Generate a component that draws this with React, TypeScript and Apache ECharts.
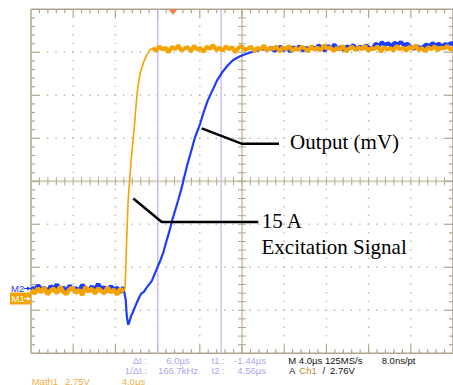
import React, { useEffect, useRef } from "react";
import * as echarts from "echarts";

// ---- Horizontal / vertical scale (oscilloscope settings) ----
const X_MIN = -13.46; // µs at the left graticule edge
const US_PER_DIV = 4; // 4.0 µs / div
const X_DIVS = 10;
const Y_DIVS = 8;
const CURSOR_TIMES = [-1.44, 4.56]; // t1, t2
const TRIGGER_TIME = 0;

// ---- Traces (time in µs, level in divisions from centre) ----
const STEP = 0.3;
const BASE_START = -13.4;
const m1Baseline = [
  -2.52, -2.61, -2.49, -2.58, -2.47, -2.63, -2.54, -2.5, -2.6, -2.45,
  -2.57, -2.62, -2.51, -2.48, -2.59, -2.53, -2.64, -2.46, -2.56, -2.5,
  -2.61, -2.49, -2.55, -2.6, -2.47, -2.58, -2.52, -2.63, -2.5, -2.56,
];
const m2Baseline = [
  -2.46, -2.55, -2.42, -2.53, -2.48, -2.58, -2.44, -2.51, -2.4, -2.54,
  -2.47, -2.57, -2.43, -2.52, -2.49, -2.56, -2.41, -2.5, -2.55, -2.45,
  -2.53, -2.39, -2.51, -2.47, -2.56, -2.44, -2.52, -2.48, -2.58, -2.46,
];
const m1Rise: [number, number][] = [
  [-4.55, -2.48], [-4.5, -2.18], [-4.44, -1.71], [-4.34, -1.02], [-4.25, -0.44],
  [-4.11, 0.03], [-3.97, 0.5], [-3.83, 0.84], [-3.69, 1.19], [-3.54, 1.66],
  [-3.41, 2.01], [-3.32, 2.22], [-3.11, 2.52], [-2.79, 2.77], [-2.48, 2.94],
  [-2.2, 3.05],
];
const M1_TOP_START = -1.9;
const m1Top = [
  3.1, 3.03, 3.14, 3.06, 3.11, 3.0, 3.13, 3.07, 3.16, 3.04,
  3.09, 3.12, 3.02, 3.15, 3.06, 3.1, 3.01, 3.13, 3.08, 3.17,
  3.05, 3.11, 3.03, 3.14, 3.07, 3.12, 3.0, 3.1, 3.15, 3.05,
  3.09, 3.13, 3.02, 3.11, 3.06, 3.16, 3.04, 3.1, 3.08, 3.14,
  3.01, 3.12, 3.07, 3.15, 3.03, 3.1, 3.05, 3.13, 3.09, 3.02,
  3.14, 3.06, 3.11, 3.04, 3.17, 3.08, 3.12, 3.03, 3.1, 3.06,
  3.15, 3.02, 3.09, 3.13, 3.05, 3.11, 3.07, 3.16, 3.03, 3.1,
  3.08, 3.14, 3.01, 3.12, 3.06, 3.1, 3.04, 3.15, 3.07, 3.11,
  3.03, 3.13, 3.08, 3.16, 3.05, 3.1, 3.02, 3.12, 3.07, 3.14,
  3.04, 3.11, 3.09, 3.15, 3.06, 3.1,
];
const m2Rise: [number, number][] = [
  [-4.48, -2.76], [-4.39, -3.11], [-4.25, -3.34], [-4.11, -3.25], [-3.97, -3.13],
  [-3.79, -3.04], [-3.6, -2.92], [-3.32, -2.76], [-3.04, -2.62], [-2.76, -2.57],
  [-2.58, -2.5], [-2.3, -2.41], [-2.02, -2.32], [-1.74, -2.16], [-1.46, -1.99],
  [-1.18, -1.83], [-0.9, -1.64], [-0.62, -1.39], [-0.34, -1.16], [-0.07, -0.9],
  [0.21, -0.67], [0.49, -0.44], [0.77, -0.2], [1.05, 0.08], [1.33, 0.36],
  [1.7, 0.68], [2.07, 1.01], [2.56, 1.33], [2.91, 1.61], [3.28, 1.87],
  [3.75, 2.12], [4.21, 2.36], [4.68, 2.54], [5.14, 2.68], [5.7, 2.82],
  [6.35, 2.91], [7.1, 2.98], [7.84, 3.03], [8.59, 3.07],
];
const M2_TOP_START = 9.0;
const m2Top = [
  3.06, 3.11, 3.03, 3.09, 3.13, 3.05, 3.1, 3.02, 3.12, 3.07, 3.14, 3.04, 3.1, 3.08,
  3.13, 3.06, 3.16, 3.1, 3.04, 3.15, 3.09, 3.18, 3.07, 3.12, 3.05, 3.14, 3.1, 3.17,
  3.06, 3.13, 3.09, 3.16, 3.11, 3.08,
  3.2, 3.15, 3.23, 3.17, 3.21, 3.14, 3.22, 3.18, 3.24, 3.16, 3.2,
  3.13, 3.08, 3.14, 3.1, 3.12,
  3.18, 3.14, 3.21, 3.16, 3.2, 3.13, 3.19, 3.17, 3.22, 3.15,
];

// ---- Read-out texts ----
const readoutCursor1 = ["Δt :", "6.0µs", "t1 :", "-1.44µs"];
const readoutCursor2 = ["1/Δt :", "166.7kHz", "t2 :", "4.56µs"];
const readoutTimebase = ["M 4.0µs 125MS/s", "8.0ns/pt"];
const readoutTrigger = ["A", "Ch1", "/", "2.76V"];
const readoutMath = ["Math1", "2.75V", "4.0µs"];

const ORANGE = "#f5a300";
const BLUE = "#1e3cff";
const LAV = "#b3a3ee";
const MATH_TXT = "#f0b048";
const BORDER = "#b0a68f";
const DOT = "#c2b9a4";
const CENTER = "#d8d0bd";
const CURSOR = "#cbb4f7";

function sampled(start: number, values: number[]): [number, number][] {
  return values.map((v, i) => [Math.round((start + i * STEP) * 100) / 100, v]);
}

const m1BaseData = sampled(BASE_START, m1Baseline);
const m1TopData = sampled(M1_TOP_START, m1Top);
const m2BaseData = sampled(BASE_START, m2Baseline);
const m2TopData = sampled(M2_TOP_START, m2Top);
const m1Data = [...m1BaseData, ...m1Rise, ...m1TopData];
const m2Data = [...m2BaseData, ...m2Rise, ...m2TopData];

function renderGraticule(_params: any, api: any) {
  const children: any[] = [];
  const [x0, yTop] = api.coord([X_MIN, Y_DIVS / 2]);
  const [x1, yBot] = api.coord([X_MIN + X_DIVS * US_PER_DIV, -Y_DIVS / 2]);
  const divX = (x1 - x0) / X_DIVS;
  const divY = (yBot - yTop) / Y_DIVS;
  const line = (a: number, b: number, c: number, d: number, style: any) =>
    children.push({ type: "line", shape: { x1: a, y1: b, x2: c, y2: d }, style });
  const dotW = 1.4;
  for (let k = 1; k < X_DIVS; k++) {
    if (k === X_DIVS / 2) continue;
    const x = x0 + k * divX;
    line(x, yTop, x, yBot, { stroke: DOT, lineWidth: dotW, lineDash: [dotW, divY / 5 - dotW], lineDashOffset: dotW / 2 });
  }
  for (let k = 1; k < Y_DIVS; k++) {
    if (k === Y_DIVS / 2) continue;
    const y = yTop + k * divY;
    line(x0, y, x1, y, { stroke: DOT, lineWidth: dotW, lineDash: [dotW, divX / 5 - dotW], lineDashOffset: dotW / 2 });
  }
  const xc = x0 + (X_DIVS / 2) * divX;
  const yc = yTop + (Y_DIVS / 2) * divY;
  line(xc, yTop, xc, yBot, { stroke: CENTER, lineWidth: 2 });
  line(x0, yc, x1, yc, { stroke: CENTER, lineWidth: 2 });
  for (let i = 1; i < X_DIVS * 5; i++) {
    const x = x0 + (i * divX) / 5;
    line(x, yc - 4, x, yc + 4, { stroke: BORDER, lineWidth: 1 });
    const len = i % 5 === 0 ? 8 : 4;
    line(x, yTop, x, yTop + len, { stroke: BORDER, lineWidth: 1.2 });
    line(x, yBot, x, yBot - len, { stroke: BORDER, lineWidth: 1.2 });
  }
  for (let i = 1; i < Y_DIVS * 5; i++) {
    const y = yTop + (i * divY) / 5;
    line(xc - 4, y, xc + 4, y, { stroke: BORDER, lineWidth: 1 });
    const len = i % 5 === 0 ? 8 : 4;
    line(x0, y, x0 + len, y, { stroke: BORDER, lineWidth: 1.2 });
    line(x1, y, x1 - len, y, { stroke: BORDER, lineWidth: 1.2 });
  }
  line(x0, yTop, x1, yTop, { stroke: BORDER, lineWidth: 1.5 });
  line(x0, yBot, x1, yBot, { stroke: BORDER, lineWidth: 1.5 });
  line(x0, yTop, x0, yBot, { stroke: BORDER, lineWidth: 1.5 });
  line(x1, yTop, x1, yBot, { stroke: BORDER, lineWidth: 1.5 });
  CURSOR_TIMES.forEach((t) => {
    const [x] = api.coord([t, 0]);
    line(x, yTop, x, yBot, { stroke: CURSOR, lineWidth: 1.3 });
  });
  const [xt] = api.coord([TRIGGER_TIME, 0]);
  children.push({
    type: "polygon",
    shape: { points: [[xt - 4.5, yTop], [xt + 4.5, yTop], [xt, yTop + 5.5]] },
    style: { fill: "#f47a4c" },
  });
  return { type: "group", children };
}

function txt(text: string, x: number, y: number, fill: string, font: string, align = "left"): any {
  return {
    type: "text",
    x,
    y,
    z: 20,
    style: {
      text,
      fill,
      font,
      align,
      textAlign: align,
      verticalAlign: "middle",
      textVerticalAlign: "middle",
    },
  };
}

function trace(name: string, data: any[], color: string, width: number, z: number, opacity = 1): any {
  return {
    type: "line",
    name,
    data,
    showSymbol: false,
    symbol: "none",
    lineStyle: { color, width, opacity },
    z,
    silent: true,
    clip: true,
  };
}

export default function App() {
  const ref = useRef<HTMLDivElement>(null);
  useEffect(() => {
    if (!ref.current) return;
    const chart = echarts.init(ref.current, undefined, { renderer: "svg" });
    const small = '9.5px "Liberation Sans", Arial, sans-serif';
    const serif = '21px "Liberation Serif", "Times New Roman", serif';
    const r1 = 360.3;
    const r2 = 370.7;
    const r3 = 381;
    chart.setOption({
      animation: false,
      backgroundColor: "#ffffff",
      grid: { left: 31, top: 9.3, width: 430, height: 344 },
      xAxis: { type: "value", min: X_MIN, max: X_MIN + X_DIVS * US_PER_DIV, show: false },
      yAxis: { type: "value", min: -Y_DIVS / 2, max: Y_DIVS / 2, show: false },
      series: [
        { type: "custom", renderItem: renderGraticule, data: [[0, 0]], z: 1, silent: true, clip: false },
        trace("M2 noise (baseline)", m2BaseData, BLUE, 4.5, 2),
        trace("M2 noise (top)", m2TopData, BLUE, 4, 2),
        trace("Output (mV)", m2Data, BLUE, 2.2, 3),
        trace("M1 noise (baseline)", m1BaseData, ORANGE, 4.5, 4),
        trace("M1 noise (top)", m1TopData, ORANGE, 4, 4),
        trace("15 A Excitation Signal", m1Data, ORANGE, 1.6, 5),
      ],
      graphic: [
        {
          type: "polyline",
          z: 10,
          shape: { points: [[201.7, 128.3], [242, 143.8], [279, 143.8]] },
          style: { stroke: "#000", lineWidth: 2.5, fill: null },
        },
        {
          type: "polyline",
          z: 10,
          shape: { points: [[133.3, 198.5], [161.7, 222], [258.3, 222]] },
          style: { stroke: "#000", lineWidth: 2.5, fill: null },
        },
        txt("Output (mV)", 290, 142, "#000", serif),
        txt("15 A", 261.7, 220.5, "#000", serif),
        txt("Excitation Signal", 261.5, 246.7, "#000", serif),
        txt("M2", 11, 288.5, BLUE, small),
        { type: "line", z: 20, shape: { x1: 24, y1: 288.5, x2: 28, y2: 288.5 }, style: { stroke: BLUE, lineWidth: 1 } },
        { type: "polygon", z: 20, shape: { points: [[27, 286.5], [31, 288.5], [27, 290.5]] }, style: { fill: BLUE } },
        { type: "rect", z: 19, shape: { x: 10, y: 292.5, width: 21, height: 12 }, style: { fill: ORANGE } },
        txt("M1", 11.5, 298.7, "#ffffff", small),
        { type: "line", z: 20, shape: { x1: 24, y1: 298.7, x2: 28, y2: 298.7 }, style: { stroke: "#fff", lineWidth: 1 } },
        { type: "polygon", z: 20, shape: { points: [[27, 296.7], [31, 298.7], [27, 300.7]] }, style: { fill: "#fff" } },
        txt(readoutCursor1[0], 147, r1, LAV, small, "right"),
        txt(readoutCursor1[1], 178, r1, LAV, small, "center"),
        txt(readoutCursor1[2], 211.5, r1, LAV, small),
        txt(readoutCursor1[3], 266, r1, LAV, small, "right"),
        txt(readoutCursor2[0], 147, r2, LAV, small, "right"),
        txt(readoutCursor2[1], 178, r2, LAV, small, "center"),
        txt(readoutCursor2[2], 211.5, r2, LAV, small),
        txt(readoutCursor2[3], 266, r2, LAV, small, "right"),
        txt(readoutTimebase[0], 288.3, r1, "#111", small),
        txt(readoutTimebase[1], 381.7, r1, "#111", small),
        txt(readoutTrigger[0], 289, r2, "#111", small),
        txt(readoutTrigger[1], 299.3, r2, "#c6892b", small),
        txt(readoutTrigger[2], 322.5, r2, "#111", small),
        txt(readoutTrigger[3], 330, r2, "#111", small),
        txt(readoutMath[0], 31.7, r3, MATH_TXT, small),
        txt(readoutMath[1], 65, r3, MATH_TXT, small),
        txt(readoutMath[2], 121.7, r3, MATH_TXT, small),
      ],
    });
    return () => chart.dispose();
  }, []);
  return (
    <div
      ref={ref}
      style={{ position: "fixed", left: 0, top: 0, width: 453, height: 385, background: "#fff" }}
    />
  );
}
